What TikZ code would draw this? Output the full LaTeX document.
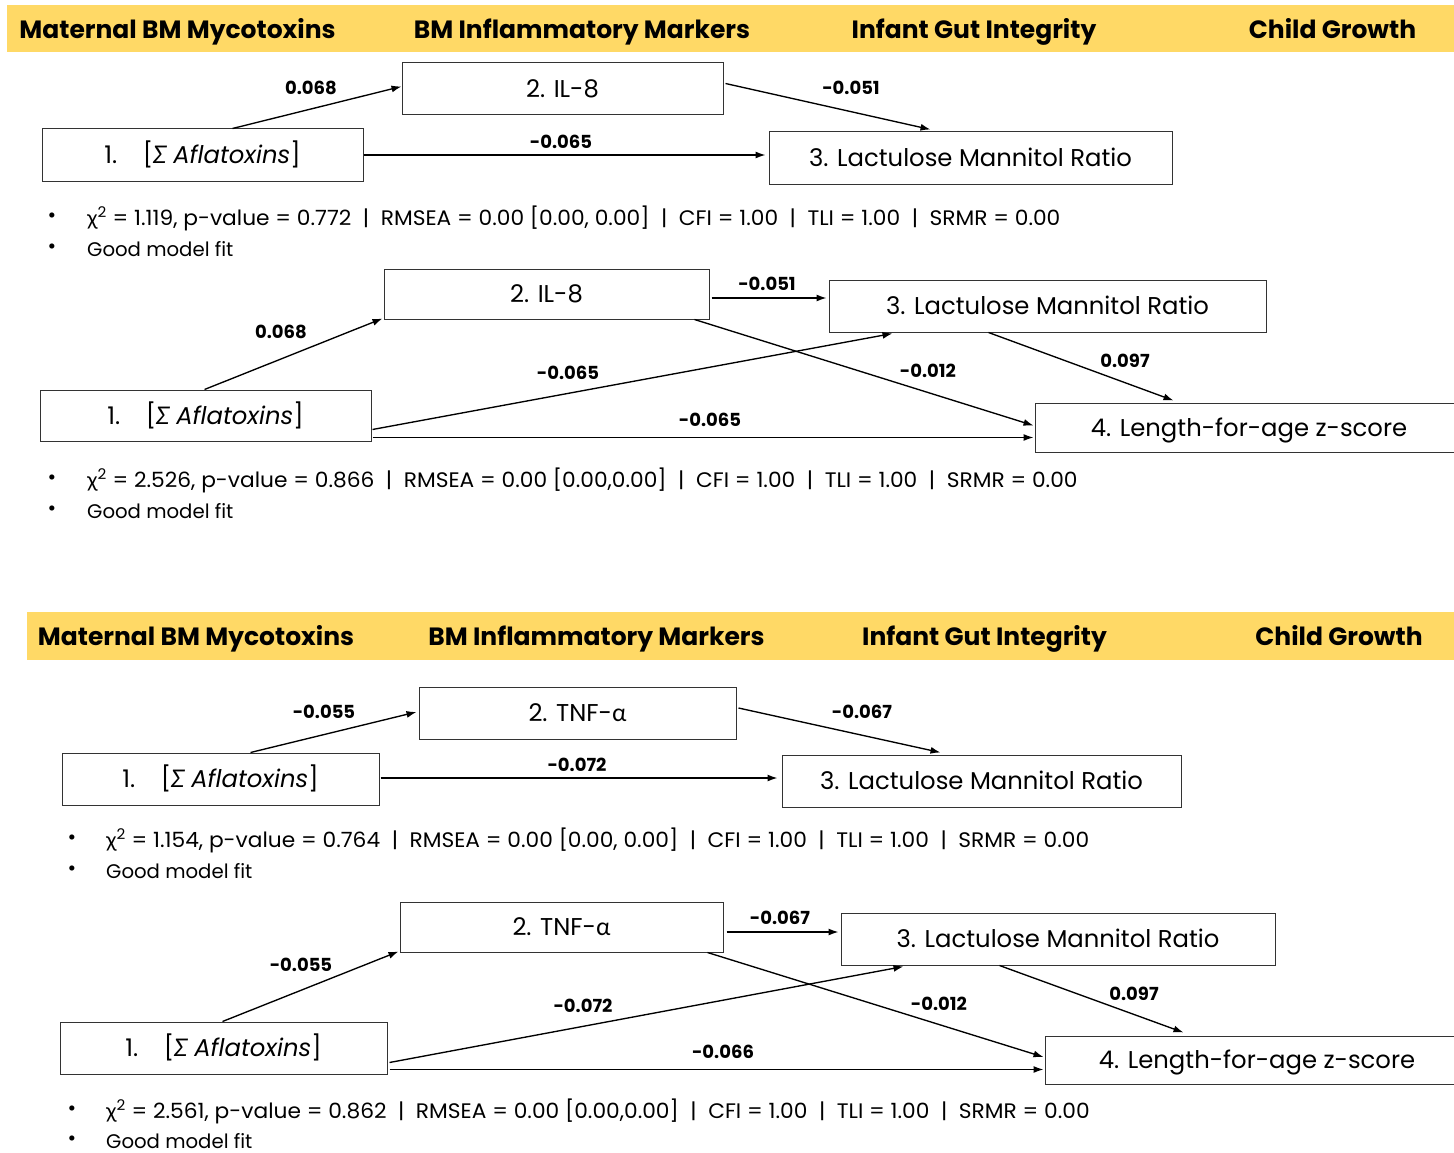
\documentclass[tikz,border=0pt]{standalone}
\usepackage{fontspec}
\setmainfont{Poppins}
\newfontfamily\grk{Lato}
\newfontfamily\fitfont{Poppins}[FakeStretch=1.035]
\newfontfamily\fitgrk{Lato}[FakeStretch=1.035]
\usetikzlibrary{arrows.meta,calc}
\definecolor{band}{HTML}{FFD966}
\newcommand{\sep}{\hspace{0.55em}|\hspace{0.55em}}
\newcommand{\afl}{1.\hspace{1.05em}[{\grk\itshape Σ} \textit{Aflatoxins}]}
\begin{document}
\begin{tikzpicture}[x=1pt,y=-1pt,
  box/.style={draw=black!80, line width=1pt, fill=white, inner sep=0pt,
    font=\fontsize{24.3}{28}\selectfont, text height=17pt, text depth=0pt},
  arr/.style={-{Latex[length=10pt,width=7pt]}, line width=1.35pt},
  lab/.style={font=\bfseries\fontsize{18}{22}\selectfont, inner sep=0pt, text height=13pt, text depth=0pt},
  hdr/.style={font=\bfseries\fontsize{25}{29}\selectfont, inner sep=0pt, text height=17.5pt, text depth=0pt},
  fitl/.style={font=\fitfont\fontsize{21}{25}\selectfont, anchor=west, inner sep=0pt, text height=15pt, text depth=0pt},
  goodl/.style={font=\fontsize{19.7}{24}\selectfont, anchor=west, inner sep=0pt, text height=14pt, text depth=0pt},
  bul/.style={font=\fontsize{21}{24}\selectfont, inner sep=0pt}]
\useasboundingbox (0,0) rectangle (1454,1153);
\fill[white] (0,0) rectangle (1454,1153);

% ---------------- Panel 1 ----------------
\fill[band] (7,5) rectangle (1454,52);
\node[hdr] (h11) at (177.5,30) {Maternal BM Mycotoxins};
\node[hdr] (h12) at (582,30) {BM Inflammatory Markers};
\node[hdr] (h13) at (974,30) {Infant Gut Integrity};
\node[hdr] (h14) at (1332.5,30) {Child Growth};

\node[box, minimum width=321pt, minimum height=52pt] (A1) at (202.5,155) {\afl};
\node[box, minimum width=321pt, minimum height=52pt] (B1) at (562.5,89) {2. IL-8};
\node[box, minimum width=403pt, minimum height=52pt] (C1) at (970.5,158) {3. Lactulose Mannitol Ratio};

\draw[arr] ($(A1.north west)+(191,0)$) -- ($(B1.north west)+(0,24)$);
\draw[arr] ($(B1.north east)+(2,21)$) -- ($(C1.north west)+(162,-2)$);
\draw[arr] ($(A1.east)+(0,0)$) -- ($(A1.east -| C1.west)+(-3,0)$);
\node[lab] (l11) at (311,88) {0.068};
\node[lab] (l12) at (851,88) {-0.051};
\node[lab] (l13) at (561,142) {-0.065};

\node[bul] (b11) at (52,217.5) {\textbullet};
\node[fitl] (f11) at (87,217.5) {{\fitgrk χ}\textsuperscript{2} = 1.119, p-value = 0.772\sep RMSEA = 0.00 [0.00, 0.00]\sep CFI = 1.00\sep TLI = 1.00\sep SRMR = 0.00};
\node[bul] (b12) at (52,249) {\textbullet};
\node[goodl] (f12) at (87,249) {Good model fit};

% ---------------- Panel 2 ----------------
\node[box, minimum width=331pt, minimum height=51pt] (A2) at (205.5,415.5) {\afl};
\node[box, minimum width=325pt, minimum height=50pt] (B2) at (546.5,294) {2. IL-8};
\node[box, minimum width=437pt, minimum height=52pt] (C2) at (1047.5,306) {3. Lactulose Mannitol Ratio};
\node[box, minimum width=428pt, minimum height=49pt] (D2) at (1249,427.5) {4. Length-for-age z-score};

\draw[arr] ($(A2.north)+(-1,0)$) -- ($(B2.south west)+(-1,-1)$);
\draw[arr] ($(B2.east)+(2,4)$) -- ($(B2.east -| C2.west)+(-2,4)$);
\draw[arr] ($(B2.south east)+(-15,0)$) -- ($(D2.west)+(-1,-2)$);
\draw[arr] ($(A2.south east)+(1,-12)$) -- ($(C2.south west)+(64,1)$);
\draw[arr] ($(A2.south east)+(1,-4)$) -- ($(A2.south east -| D2.west)+(-1,-4)$);
\draw[arr] ($(C2.south west)+(160,0)$) -- ($(D2.north west)+(139,-2)$);
\node[lab] (l21) at (281,332) {0.068};
\node[lab] (l22) at (767,284) {-0.051};
\node[lab] (l23) at (928,371) {-0.012};
\node[lab] (l24) at (568,373) {-0.065};
\node[lab] (l25) at (710,420) {-0.065};
\node[lab] (l26) at (1125,361) {0.097};

\node[bul] (b21) at (52,480) {\textbullet};
\node[fitl] (f21) at (87,480) {{\fitgrk χ}\textsuperscript{2} = 2.526, p-value = 0.866\sep RMSEA = 0.00 [0.00,0.00]\sep CFI = 1.00\sep TLI = 1.00\sep SRMR = 0.00};
\node[bul] (b22) at (52,511) {\textbullet};
\node[goodl] (f22) at (87,511) {Good model fit};

% ---------------- Panel 3 ----------------
\fill[band] (27,612) rectangle (1454,660);
\node[hdr] (h31) at (196,637) {Maternal BM Mycotoxins};
\node[hdr] (h32) at (596.5,637) {BM Inflammatory Markers};
\node[hdr] (h33) at (984.5,637) {Infant Gut Integrity};
\node[hdr] (h34) at (1339,637) {Child Growth};

\node[box, minimum width=317pt, minimum height=52pt] (A3) at (220.5,779) {\afl};
\node[box, minimum width=317pt, minimum height=52pt] (B3) at (577.5,713) {2. TNF-{\grk α}};
\node[box, minimum width=399pt, minimum height=52pt] (C3) at (981.5,781) {3. Lactulose Mannitol Ratio};

\draw[arr] ($(A3.north west)+(189,0)$) -- ($(B3.west)+(-2,-1)$);
\draw[arr] ($(B3.east)+(2,-5)$) -- ($(C3.north west)+(159,-2)$);
\draw[arr] ($(A3.east)+(1,-1)$) -- ($(A3.east -| C3.west)+(-4,-1)$);
\node[lab] (l31) at (324,712) {-0.055};
\node[lab] (l32) at (862,712) {-0.067};
\node[lab] (l33) at (577,765) {-0.072};

\node[bul] (b31) at (72,840) {\textbullet};
\node[fitl] (f31) at (106,840) {{\fitgrk χ}\textsuperscript{2} = 1.154, p-value = 0.764\sep RMSEA = 0.00 [0.00, 0.00]\sep CFI = 1.00\sep TLI = 1.00\sep SRMR = 0.00};
\node[bul] (b32) at (72,871) {\textbullet};
\node[goodl] (f32) at (106,871) {Good model fit};

% ---------------- Panel 4 ----------------
\node[box, minimum width=327pt, minimum height=52pt] (A4) at (223.5,1048) {\afl};
\node[box, minimum width=323pt, minimum height=50pt] (B4) at (561.5,927) {2. TNF-{\grk α}};
\node[box, minimum width=434pt, minimum height=52pt] (C4) at (1058,939) {3. Lactulose Mannitol Ratio};
\node[box, minimum width=424pt, minimum height=48pt] (D4) at (1257,1060) {4. Length-for-age z-score};

\draw[arr] ($(A4.north)+(-1,0)$) -- ($(B4.south west)+(-1,-1)$);
\draw[arr] ($(B4.east)+(3,5)$) -- ($(B4.east -| C4.west)+(-2,5)$);
\draw[arr] ($(B4.south east)+(-16,0)$) -- ($(D4.west)+(-1,-3)$);
\draw[arr] ($(A4.south east)+(2,-12)$) -- ($(C4.south west)+(63,1)$);
\draw[arr] ($(A4.south east)+(2,-5)$) -- ($(A4.south east -| D4.west)+(-1,-5)$);
\draw[arr] ($(C4.south west)+(159,0)$) -- ($(D4.north west)+(139,-3)$);
\node[lab] (l41) at (301,965) {-0.055};
\node[lab] (l42) at (780,918) {-0.067};
\node[lab] (l43) at (939,1004) {-0.012};
\node[lab] (l44) at (583,1006) {-0.072};
\node[lab] (l45) at (723,1052) {-0.066};
\node[lab] (l46) at (1134,994) {0.097};

\node[bul] (b41) at (72,1111) {\textbullet};
\node[fitl] (f41) at (106,1111) {{\fitgrk χ}\textsuperscript{2} = 2.561, p-value = 0.862\sep RMSEA = 0.00 [0.00,0.00]\sep CFI = 1.00\sep TLI = 1.00\sep SRMR = 0.00};
\node[bul] (b42) at (72,1141) {\textbullet};
\node[goodl] (f42) at (106,1141) {Good model fit};
\end{tikzpicture}
\end{document}
